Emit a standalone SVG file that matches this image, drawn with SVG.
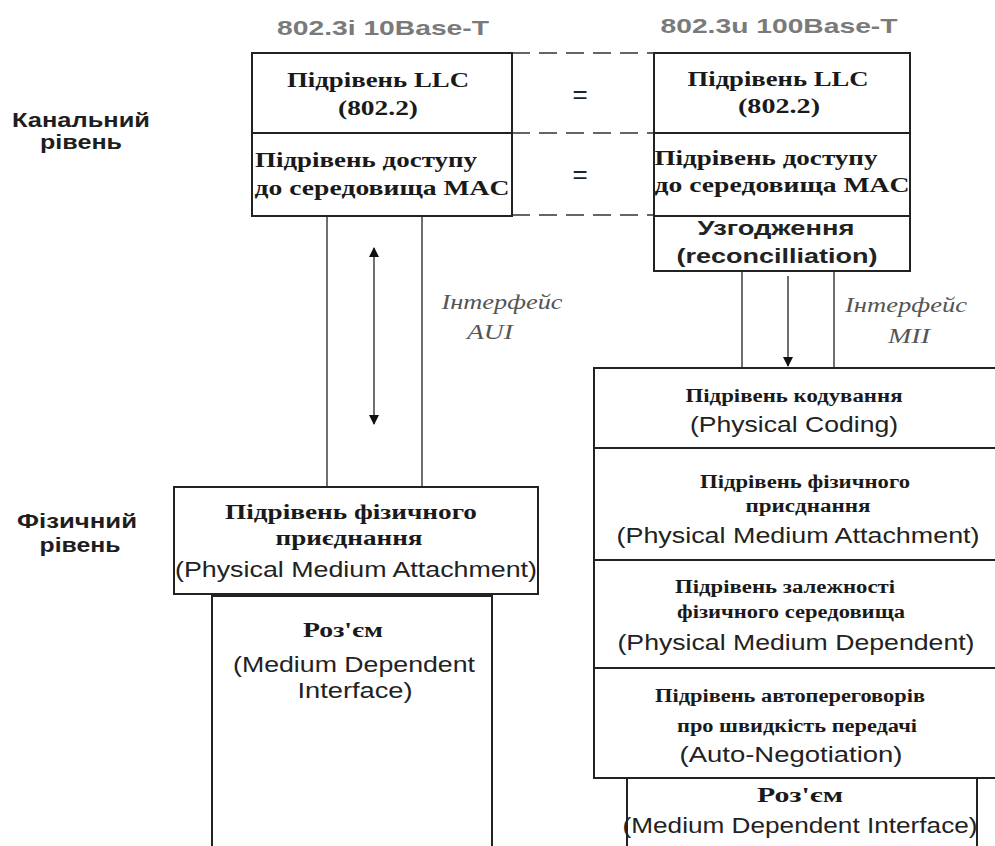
<svg xmlns="http://www.w3.org/2000/svg" width="995" height="846" viewBox="0 0 995 846">
<defs>
<style>
.box{fill:#fff;stroke:#222;stroke-width:2}
.div{stroke:#222;stroke-width:2.2}
.thin{stroke:#333;stroke-width:1.4;fill:none}
.dash{stroke:#333;stroke-width:1.6;stroke-dasharray:18 9;fill:none}
.ser{font-family:"Liberation Serif","DejaVu Serif",serif;font-weight:bold;fill:#1a1a1a;text-anchor:middle}
.sans{font-family:"Liberation Sans",Arial,sans-serif;fill:#222;text-anchor:middle}
.sansb{font-family:"Liberation Sans",Arial,sans-serif;font-weight:bold;fill:#222;text-anchor:middle}
.head{font-family:"Liberation Sans",Arial,sans-serif;font-weight:bold;fill:#7a7a7a;text-anchor:middle;font-size:21px}
.lvl{font-family:"Liberation Sans",Arial,sans-serif;font-weight:bold;fill:#1e1e1e;text-anchor:middle;font-size:20px}
.ital{font-family:"Liberation Serif","DejaVu Serif",serif;font-style:italic;fill:#555;text-anchor:middle;font-size:21px}
</style>
<marker id="ah" viewBox="0 0 10 12" refX="9" refY="6" markerWidth="10" markerHeight="12" markerUnits="userSpaceOnUse" orient="auto-start-reverse">
<path d="M0,1 L10,6 L0,11 z" fill="#111"/>
</marker>
</defs>
<rect width="995" height="846" fill="#fff"/>

<g id="headers">
<text class="head" x="383" y="35" textLength="212" lengthAdjust="spacingAndGlyphs">802.3i 10Base-T</text>
<text class="head" x="779" y="33" textLength="237" lengthAdjust="spacingAndGlyphs">802.3u 100Base-T</text>
</g>

<g id="level-labels">
<text class="lvl" x="81" y="127" textLength="138" lengthAdjust="spacingAndGlyphs">Канальний</text>
<text class="lvl" x="81" y="149" textLength="82" lengthAdjust="spacingAndGlyphs">рівень</text>
<text class="lvl" x="77" y="528" textLength="120" lengthAdjust="spacingAndGlyphs">Фізичний</text>
<text class="lvl" x="80" y="552" textLength="81" lengthAdjust="spacingAndGlyphs">рівень</text>
</g>

<g id="connectors">
<line class="dash" x1="512" y1="53" x2="654" y2="53"/>
<line class="dash" x1="512" y1="133" x2="654" y2="133"/>
<line class="dash" x1="512" y1="215" x2="654" y2="215"/>
<line class="thin" x1="327" y1="216" x2="327" y2="487"/>
<line class="thin" x1="422" y1="216" x2="422" y2="487"/>
<line class="thin" x1="374" y1="248" x2="374" y2="424" marker-start="url(#ah)" marker-end="url(#ah)"/>
<line class="thin" x1="742" y1="271" x2="742" y2="368"/>
<line class="thin" x1="834" y1="271" x2="834" y2="368"/>
<line class="thin" x1="788" y1="276" x2="788" y2="366" marker-end="url(#ah)"/>
</g>

<g id="eq-labels">
<text class="sans" x="580" y="103" font-size="26">=</text>
<text class="sans" x="580" y="183" font-size="26">=</text>
</g>

<g id="aui-label">
<text class="ital" x="502" y="309" textLength="121" lengthAdjust="spacingAndGlyphs">Інтерфейс</text>
<text class="ital" x="490" y="339" textLength="46" lengthAdjust="spacingAndGlyphs">AUI</text>
</g>
<g id="mii-label">
<text class="ital" x="906" y="312" textLength="122" lengthAdjust="spacingAndGlyphs">Інтерфейс</text>
<text class="ital" x="909" y="343" textLength="42" lengthAdjust="spacingAndGlyphs">MII</text>
</g>

<g id="left-llc-mac">
<rect class="box" x="252" y="53" width="260" height="163"/>
<line class="div" x1="252" y1="133" x2="512" y2="133"/>
<text class="ser" x="378" y="87" font-size="22" textLength="182" lengthAdjust="spacingAndGlyphs">Підрівень LLC</text>
<text class="ser" x="378" y="115" font-size="22" textLength="80" lengthAdjust="spacingAndGlyphs">(802.2)</text>
<text class="ser" x="366" y="167" font-size="22" textLength="222" lengthAdjust="spacingAndGlyphs">Підрівень доступу</text>
<text class="ser" x="382" y="195" font-size="22" textLength="255" lengthAdjust="spacingAndGlyphs">до середовища MAC</text>
</g>

<g id="right-llc-mac-rec">
<rect class="box" x="654" y="53" width="256" height="218"/>
<line class="div" x1="654" y1="133" x2="910" y2="133"/>
<line class="div" x1="654" y1="216" x2="910" y2="216"/>
<text class="ser" x="778" y="86" font-size="22" textLength="181" lengthAdjust="spacingAndGlyphs">Підрівень LLC</text>
<text class="ser" x="779" y="113" font-size="22" textLength="82" lengthAdjust="spacingAndGlyphs">(802.2)</text>
<text class="ser" x="766" y="165" font-size="22" textLength="223" lengthAdjust="spacingAndGlyphs">Підрівень доступу</text>
<text class="ser" x="782" y="192" font-size="22" textLength="255" lengthAdjust="spacingAndGlyphs">до середовища MAC</text>
<text class="sansb" x="776" y="235" font-size="20" textLength="157" lengthAdjust="spacingAndGlyphs">Узгодження</text>
<text class="sansb" x="777" y="263" font-size="20" textLength="201" lengthAdjust="spacingAndGlyphs">(reconcilliation)</text>
</g>

<g id="left-pma">
<rect class="box" x="174" y="487" width="364" height="107"/>
<text class="ser" x="351" y="519" font-size="22" textLength="252" lengthAdjust="spacingAndGlyphs">Підрівень фізичного</text>
<text class="ser" x="349" y="545" font-size="22" textLength="147" lengthAdjust="spacingAndGlyphs">приєднання</text>
<text class="sans" x="356" y="577" font-size="22" textLength="362" lengthAdjust="spacingAndGlyphs">(Physical Medium Attachment)</text>
</g>

<g id="left-mdi">
<path class="box" d="M212,848 V596 H492 V848"/>
<text class="ser" x="343" y="637" font-size="21" textLength="80" lengthAdjust="spacingAndGlyphs">Роз'єм</text>
<text class="sans" x="354" y="672" font-size="22" textLength="242" lengthAdjust="spacingAndGlyphs">(Medium Dependent</text>
<text class="sans" x="355" y="698" font-size="22" textLength="115" lengthAdjust="spacingAndGlyphs">Interface)</text>
</g>

<g id="right-phy">
<rect class="box" x="594" y="368" width="410" height="410"/>
<line class="div" x1="594" y1="448" x2="995" y2="448"/>
<line class="div" x1="594" y1="560" x2="995" y2="560"/>
<line class="div" x1="594" y1="668" x2="995" y2="668"/>
<text class="ser" x="794" y="402" font-size="18" textLength="217" lengthAdjust="spacingAndGlyphs">Підрівень кодування</text>
<text class="sans" x="794" y="432" font-size="22" textLength="208" lengthAdjust="spacingAndGlyphs">(Physical Coding)</text>
<text class="ser" x="805" y="488" font-size="18" textLength="210" lengthAdjust="spacingAndGlyphs">Підрівень фізичного</text>
<text class="ser" x="808" y="512" font-size="18" textLength="125" lengthAdjust="spacingAndGlyphs">присднання</text>
<text class="sans" x="798" y="543" font-size="22" textLength="363" lengthAdjust="spacingAndGlyphs">(Physical Medium Attachment)</text>
<text class="ser" x="785" y="593" font-size="18" textLength="220" lengthAdjust="spacingAndGlyphs">Підрівень залежності</text>
<text class="ser" x="791" y="618" font-size="18" textLength="228" lengthAdjust="spacingAndGlyphs">фізичного середовища</text>
<text class="sans" x="796" y="650" font-size="22" textLength="357" lengthAdjust="spacingAndGlyphs">(Physical Medium Dependent)</text>
<text class="ser" x="790" y="702" font-size="18" textLength="270" lengthAdjust="spacingAndGlyphs">Підрівень автопереговорів</text>
<text class="ser" x="797" y="732" font-size="18" textLength="240" lengthAdjust="spacingAndGlyphs">про швидкість передачі</text>
<text class="sans" x="791" y="762" font-size="22" textLength="223" lengthAdjust="spacingAndGlyphs">(Auto-Negotiation)</text>
</g>

<g id="right-mdi">
<path class="box" d="M627,848 V779 M977,779 V848"/>
<text class="ser" x="800" y="802" font-size="21" textLength="86" lengthAdjust="spacingAndGlyphs">Роз'єм</text>
<text class="sans" x="800" y="833" font-size="22" textLength="355" lengthAdjust="spacingAndGlyphs">(Medium Dependent Interface)</text>
</g>
</svg>
